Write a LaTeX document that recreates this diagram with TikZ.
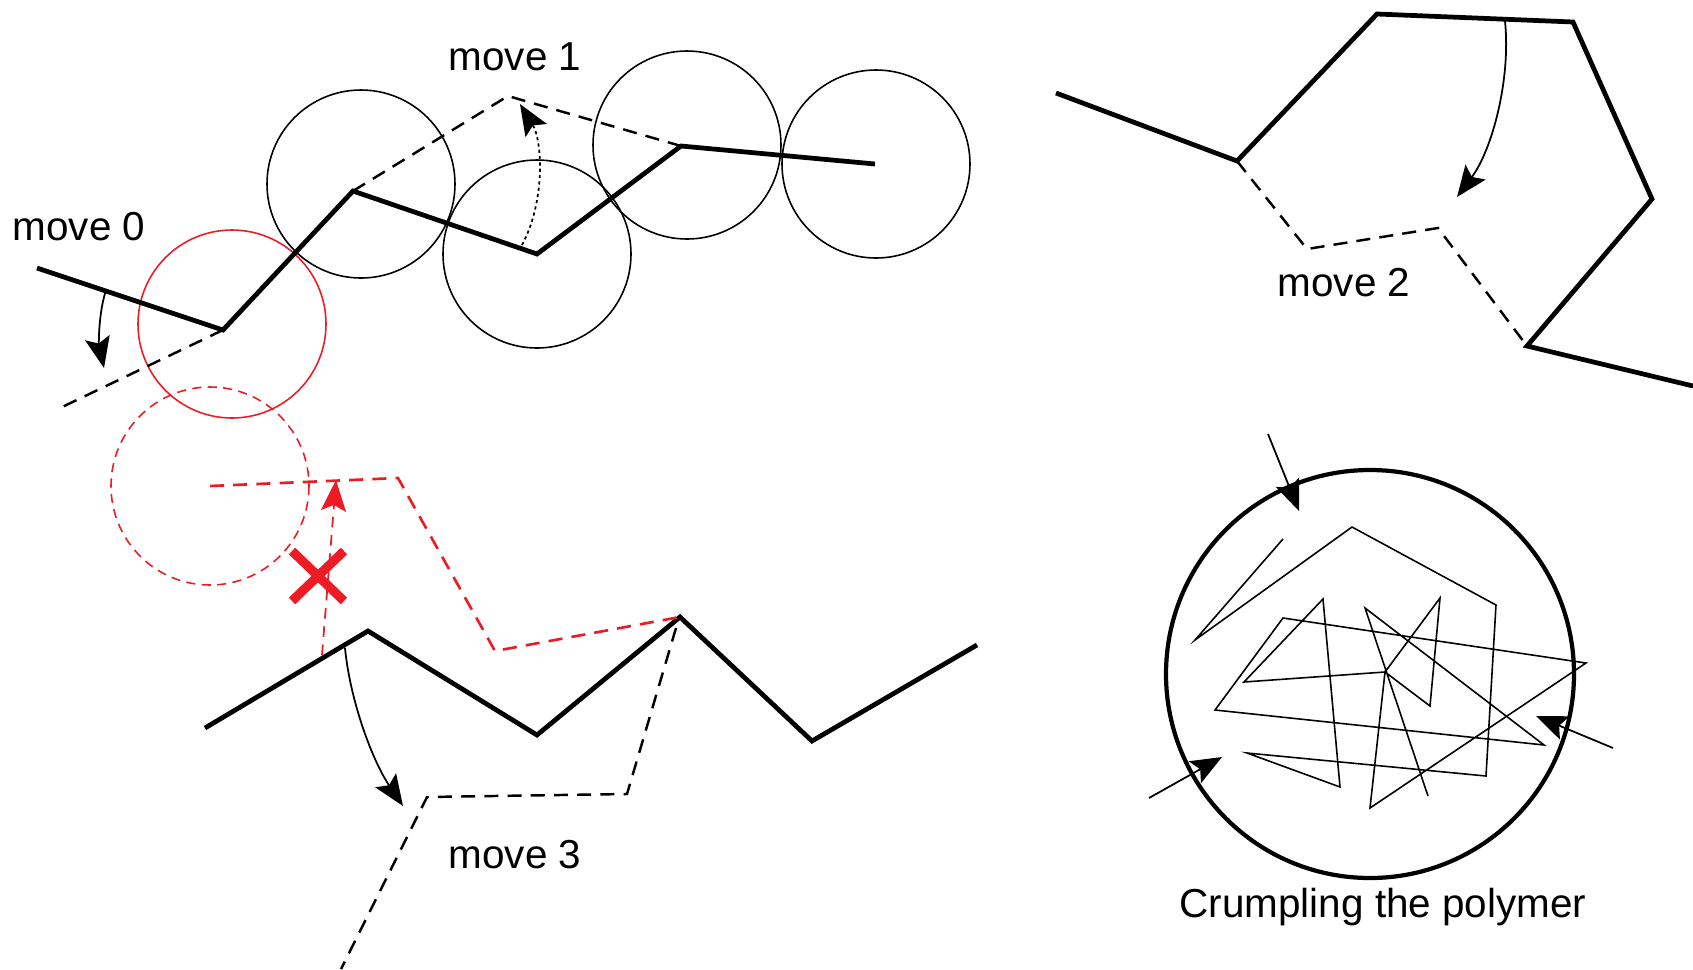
\documentclass[tikz,border=0pt]{standalone}
\usepackage{fontspec}
\setmainfont{Liberation Sans}
\usepackage{tikz}
\usetikzlibrary{arrows.meta}
\definecolor{xred}{RGB}{237,28,36}

\begin{document}
\begin{tikzpicture}[
    x=0.01cm, y=-0.01cm,
    backbone/.style={line width=1.35pt, line join=miter},
    trial/.style={line width=0.7pt, dash pattern=on 4pt off 2.6pt},
    bead/.style={line width=0.45pt},
    flip/.style={-{Stealth[length=3.1mm,width=2.5mm,inset=0.6mm]}, line width=0.5pt},
    movetext/.style={font=\fontsize{11.5}{13}\selectfont, inner sep=0pt},
    walk/.style={line width=0.45pt, line join=miter}
]
\useasboundingbox (0,0) rectangle (1693,969);

% move 0 and move 1
\coordinate (a0) at (37,268);
\coordinate (a1) at (223,330);
\coordinate (a2) at (353,191);
\coordinate (a3) at (537,254);
\coordinate (a4) at (681,146);
\coordinate (a5) at (875,164);
\draw[bead] (361,184) circle (94);
\draw[bead] (537,254) circle (94);
\draw[bead] (687,145) circle (94);
\draw[bead] (876,164) circle (94);
\draw[bead, xred] (232,324) circle (94);
\draw[bead, xred, dash pattern=on 2.6pt off 1.8pt] (210,486) circle (99);
\draw[backbone] (a0) -- (a1) -- (a2) -- (a3) -- (a4) -- (a5);
\coordinate (a1t) at (58,409);
\draw[trial] (a1) -- (a1t);
\coordinate (a2t) at (508,96);
\draw[trial] (a2) -- (a2t) -- (a4);
\coordinate (f0s) at (106,290);
\coordinate (f0e) at (104,368);
\draw[flip] (f0s) .. controls (98,315) and (99,345) .. (f0e);
\coordinate (f1s) at (522,245);
\coordinate (f1e) at (520,104);
\draw[flip, dash pattern=on 0.9pt off 0.9pt] (f1s) .. controls (546,200) and (542,140) .. (f1e);
\node[movetext] (m0) at (79,227) {move 0};
\node[movetext] (m1) at (515,57) {move 1};

% move 3 and the rejected one
\coordinate (b0) at (205,728);
\coordinate (b1) at (368,631);
\coordinate (b2) at (537,735);
\coordinate (b3) at (680,617);
\coordinate (b4) at (812,741);
\coordinate (b5) at (977,645);
\draw[backbone] (b0) -- (b1) -- (b2) -- (b3) -- (b4) -- (b5);
\coordinate (r0) at (210,486);
\coordinate (r1) at (398,478);
\coordinate (r2) at (495,651);
\draw[trial, xred, line width=0.75pt] (r0) -- (r1) -- (r2) -- (b3);
\coordinate (rs) at (322,655);
\coordinate (re) at (336,480);
\draw[flip, xred, dash pattern=on 3pt off 2.2pt] (rs) -- (re);
\coordinate (xc) at (318,576);
\draw[xred, line width=2.6pt] ([shift={(-26,-25)}]xc) -- ([shift={(26,25)}]xc);
\draw[xred, line width=2.6pt] ([shift={(26,-25)}]xc) -- ([shift={(-26,25)}]xc);
\coordinate (d0) at (676,628);
\coordinate (d1) at (627,794);
\coordinate (d2) at (427,797);
\coordinate (d3) at (341,969);
\draw[trial] (d0) -- (d1) -- (d2) -- (d3);
\coordinate (f3s) at (345,648);
\coordinate (f3e) at (403,806);
\draw[flip] (f3s) .. controls (350,700) and (372,760) .. (f3e);
\node[movetext] (m3) at (515,855) {move 3};

% move 2
\coordinate (c0) at (1056,93);
\coordinate (c1) at (1237,161);
\coordinate (c2) at (1377,14);
\coordinate (c3) at (1573,22);
\coordinate (c4) at (1652,199);
\coordinate (c5) at (1527,346);
\coordinate (c6) at (1693,386);
\draw[backbone] (c0) -- (c1) -- (c2) -- (c3) -- (c4) -- (c5) -- (c6);
\coordinate (e1) at (1307,249);
\coordinate (e2) at (1438,228);
\draw[trial] (c1) -- (e1) -- (e2) -- (c5);
\coordinate (f2s) at (1505,21);
\coordinate (f2e) at (1457,197);
\draw[flip] (f2s) .. controls (1511,80) and (1492,150) .. (f2e);
\node[movetext] (m2) at (1344,283) {move 2};

% crumpling
\coordinate (o) at (1370,674);
\draw[line width=1.2pt] (o) circle (204);
\draw[walk] (1283,539) -- (1195,640) -- (1352,527) -- (1496,605) -- (1486,776)
    -- (1247,753) -- (1340,787) -- (1323,599) -- (1244,682) -- (1385,672)
    -- (1440,598) -- (1430,706) -- (1385,672) -- (1370,808) -- (1586,663)
    -- (1283,618) -- (1215,710) -- (1544,745) -- (1365,608) -- (1428,796);
\coordinate (p1s) at (1268,434);
\coordinate (p1e) at (1299,511);
\coordinate (p2s) at (1149,798);
\coordinate (p2e) at (1222,757);
\coordinate (p3s) at (1613,748);
\coordinate (p3e) at (1536,716);
\draw[flip] (p1s) -- (p1e);
\draw[flip] (p2s) -- (p2e);
\draw[flip] (p3s) -- (p3e);
\node[movetext] (crumple) at (1383,907) {Crumpling the polymer};
\end{tikzpicture}
\end{document}
